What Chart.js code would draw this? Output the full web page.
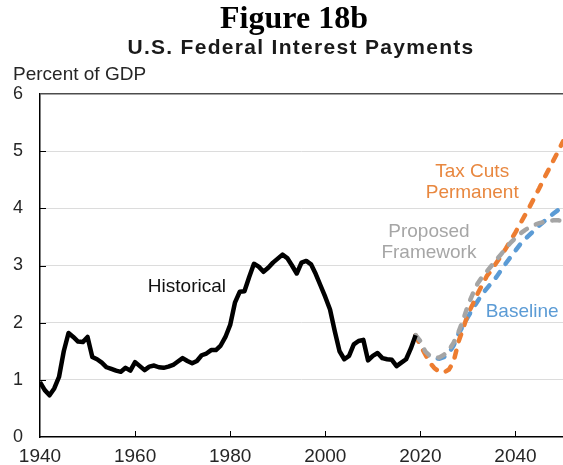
<!DOCTYPE html>
<html>
<head>
<meta charset="utf-8">
<script src="https://cdn.jsdelivr.net/npm/chart.js@4"></script>
<style>
  html, body { margin: 0; padding: 0; background: #fff; }
  canvas { display: block; }
</style>
</head>
<body>
<canvas id="interestChart" width="563" height="465"></canvas>
<script>
// Interest payments, percent of GDP
const histStart = 1940;
const historical = [
  0.96, 0.82, 0.73, 0.85, 1.05, 1.50, 1.82, 1.75, 1.67, 1.66,
  1.75, 1.40, 1.36, 1.30, 1.22, 1.19, 1.16, 1.14, 1.21, 1.16,
  1.31, 1.24, 1.17, 1.23, 1.25, 1.22, 1.21, 1.23, 1.26, 1.32,
  1.38, 1.33, 1.29, 1.33, 1.43, 1.46, 1.52, 1.52, 1.60, 1.75,
  1.96, 2.35, 2.54, 2.55, 2.80, 3.03, 2.98, 2.89, 2.96, 3.05,
  3.12, 3.19, 3.13, 3.00, 2.86, 3.05, 3.08, 3.02, 2.85, 2.65,
  2.45, 2.23, 1.85, 1.50, 1.36, 1.42, 1.62, 1.68, 1.70, 1.34,
  1.42, 1.47, 1.38, 1.36, 1.35, 1.24, 1.30, 1.36, 1.55, 1.78
];

const projStart = 2019;
const baseline = [
  1.78, 1.62, 1.48, 1.41, 1.38, 1.37, 1.40, 1.47, 1.60, 1.80,
  1.95, 2.10, 2.24, 2.37, 2.50, 2.60, 2.70, 2.80, 2.92, 3.04,
  3.15, 3.26, 3.37, 3.46, 3.54, 3.62, 3.70, 3.77, 3.84, 3.91,
  3.97, 4.03
];
const framework = [
  1.78, 1.68, 1.50, 1.42, 1.39, 1.39, 1.44, 1.52, 1.65, 1.83,
  2.05, 2.30, 2.50, 2.68, 2.80, 2.90, 3.00, 3.10, 3.20, 3.30,
  3.40, 3.48, 3.56, 3.62, 3.67, 3.71, 3.74, 3.76, 3.78, 3.79,
  3.79, 3.78
];
const taxCuts = [
  1.78, 1.60, 1.45, 1.30, 1.20, 1.14, 1.13, 1.18, 1.32, 1.66,
  1.90, 2.15, 2.32, 2.50, 2.66, 2.82, 2.92, 3.05, 3.17, 3.30,
  3.44, 3.58, 3.73, 3.88, 4.03, 4.19, 4.35, 4.52, 4.68, 4.84,
  5.00, 5.17
];

const xTicks = [1940, 1960, 1980, 2000, 2020, 2040];
const yTicks = [0, 1, 2, 3, 4, 5, 6];

const ORANGE = "#ED7D31";
const GRAY = "#A5A5A5";
const BLUE = "#5B9BD5";

// text labels placed in data units (year, percent), centre of the block
const notes = [
  { lines: ["Historical"], x: 1970.9, y: 2.62, color: "#111" },
  { lines: ["Proposed", "Framework"], x: 2021.8, y: 3.41, color: "#a6a6a6" },
  { lines: ["Tax Cuts", "Permanent"], x: 2030.9, y: 4.46, color: "#e8873f" },
  { lines: ["Baseline"], x: 2041.4, y: 2.19, color: BLUE }
];

function toPoints(start, values) {
  return values.map((v, i) => ({ x: start + i, y: v }));
}

const decorations = {
  id: "decorations",
  afterDraw(chart) {
    const { ctx, chartArea: area, scales: { x, y } } = chart;
    ctx.save();

    // inner tick marks
    ctx.strokeStyle = "#000";
    ctx.lineWidth = 1;
    xTicks.slice(1).forEach(v => {
      const px = Math.round(x.getPixelForValue(v)) + 0.5;
      ctx.beginPath();
      ctx.moveTo(px, area.bottom);
      ctx.lineTo(px, area.bottom - 6);
      ctx.stroke();
    });
    yTicks.slice(1, -1).forEach(v => {
      const py = Math.round(y.getPixelForValue(v)) + 0.5;
      ctx.beginPath();
      ctx.moveTo(area.left, py);
      ctx.lineTo(area.left + 6, py);
      ctx.stroke();
    });

    // annotations
    ctx.font = "19px 'Liberation Sans', Arial, sans-serif";
    ctx.textAlign = "center";
    ctx.textBaseline = "middle";
    notes.forEach(n => {
      const cx = x.getPixelForValue(n.x);
      const cy = y.getPixelForValue(n.y);
      ctx.fillStyle = n.color;
      n.lines.forEach((t, i) => {
        ctx.fillText(t, cx, cy + (i - (n.lines.length - 1) / 2) * 21);
      });
    });

    // titles
    ctx.textBaseline = "alphabetic";
    ctx.fillStyle = "#000";
    ctx.font = "bold 32px 'Liberation Serif', 'Times New Roman', serif";
    ctx.fillText("Figure 18b", 294, 28);

    ctx.fillStyle = "#1a1a1a";
    ctx.font = "bold 21px 'Liberation Sans', Arial, sans-serif";
    ctx.letterSpacing = "1.3px";
    ctx.fillText("U.S. Federal Interest Payments", 301, 54);
    ctx.letterSpacing = "0px";

    ctx.textAlign = "left";
    ctx.fillStyle = "#262626";
    ctx.font = "19px 'Liberation Sans', Arial, sans-serif";
    ctx.fillText("Percent of GDP", 13, 80);

    ctx.restore();
  }
};

const dashed = {
  borderWidth: 4.5,
  borderDash: [7, 10],
  borderCapStyle: "round",
  pointRadius: 0,
  fill: false
};

const interestChart = new Chart(document.getElementById("interestChart"), {
  type: "line",
  data: {
    datasets: [
      {
        label: "Historical",
        data: toPoints(histStart, historical),
        borderColor: "#000",
        borderWidth: 4.5,
        borderJoinStyle: "round",
        pointRadius: 0,
        fill: false
      },
      Object.assign({ label: "Proposed Framework", data: toPoints(projStart, framework), borderColor: GRAY }, dashed),
      Object.assign({ label: "Tax Cuts Permanent", data: toPoints(projStart, taxCuts), borderColor: ORANGE }, dashed),
      Object.assign({ label: "Baseline", data: toPoints(projStart, baseline), borderColor: BLUE }, dashed)
    ]
  },
  options: {
    responsive: false,
    animation: false,
    devicePixelRatio: 1,
    layout: { padding: { top: 94, left: 13, right: 0, bottom: 0 } },
    plugins: {
      legend: { display: false },
      tooltip: { enabled: false }
    },
    scales: {
      x: {
        type: "linear",
        min: 1940,
        max: 2050,
        afterBuildTicks: s => { s.ticks = xTicks.map(v => ({ value: v })); },
        afterFit: s => { s.height = 28; },
        grid: { display: false, drawTicks: false },
        border: { display: true, color: "#000", width: 1.5 },
        ticks: {
          autoSkip: false,
          maxRotation: 0,
          padding: 8,
          color: "#262626",
          font: { family: "'Liberation Sans', Arial, sans-serif", size: 19 },
          callback: v => String(v)
        }
      },
      y: {
        min: 0,
        max: 6,
        afterBuildTicks: s => { s.ticks = yTicks.map(v => ({ value: v })); },
        afterFit: s => { s.width = 27; },
        grid: {
          drawTicks: false,
          color: c => c.tick.value === 6 ? "#4d4d4d" : (c.tick.value === 0 ? "rgba(0,0,0,0)" : "#dcdcdc"),
          lineWidth: c => c.tick.value === 6 ? 1.5 : 1
        },
        border: { display: true, color: "#000", width: 1.5 },
        ticks: {
          crossAlign: "far",
          padding: 0,
          color: "#262626",
          font: { family: "'Liberation Sans', Arial, sans-serif", size: 18 }
        }
      }
    }
  },
  plugins: [decorations]
});
</script>
</body>
</html>
